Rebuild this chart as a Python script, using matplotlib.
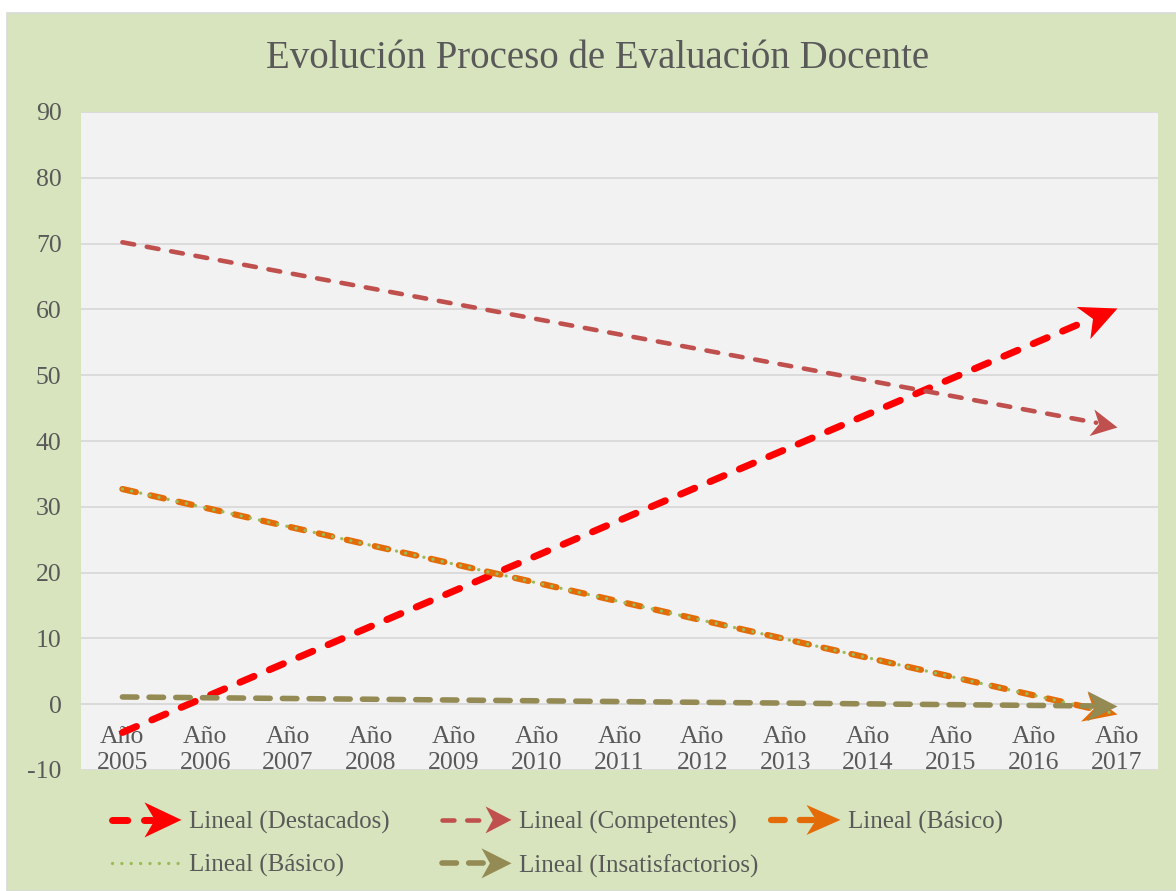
import numpy as np
import matplotlib.pyplot as plt
from matplotlib.lines import Line2D
from matplotlib.markers import MarkerStyle
from matplotlib.path import Path
from matplotlib.patches import Rectangle, Polygon
from matplotlib.transforms import Affine2D

# data: linear trend lines, value at first and last year
years = list(range(2005, 2018))
tick_labels = ['Año\n%d' % y for y in years]
series = ['Lineal (Destacados)', 'Lineal (Competentes)', 'Lineal (Básico)',
          'Lineal (Básico)', 'Lineal (Insatisfactorios)']
trend_start = [-4.3, 70.2, 32.7, 32.7, 1.1]
trend_end = [60.2, 42.2, -1.5, -1.5, -0.3]

# styles
colors = ['#FF0000', '#C0504D', '#E36C09', '#9BBB59', '#948A54']
widths = [5.0, 3.3, 4.5, 2.4, 4.0]
dashes = [(2.2, 2.4), (2.6, 2.8), (2.2, 2.4), (0.01, 2.8), (2.6, 2.2)]
head_len = [37, 26, 34, 0, 30]      # px
head_wid = [35, 27, 30, 0, 30]      # px
TXT = '#595959'
FONT = 'Liberation Serif'

plt.rcParams['font.family'] = FONT
plt.rcParams['axes.unicode_minus'] = False

fig = plt.figure(figsize=(11.76, 8.91), dpi=100, facecolor='white')
fig.patches.append(Rectangle((7 / 1176, 0), 1, 1 - 13 / 891, transform=fig.transFigure,
                             facecolor='#D7E4BD', edgecolor='#D9D9D9', lw=1.2, zorder=-10))

ax = fig.add_axes([81 / 1176, 1 - 770 / 891, (1158 - 81) / 1176, (770 - 112) / 891])
ax.set_facecolor('#F2F2F2')
ax.set_xlim(-0.5, len(years) - 0.5)
ax.set_ylim(-10, 90)
ax.set_yticks(range(-10, 91, 10))
ax.set_xticks(range(len(years)))
ax.set_xticklabels(tick_labels, linespacing=1.25)
ax.tick_params(axis='both', length=0, labelsize=18.5, labelcolor=TXT)
ax.tick_params(axis='y', pad=14)
ax.tick_params(axis='x', pad=16)
ax.grid(axis='y', color='#D9D9D9', lw=1.3)
ax.set_axisbelow(True)
for s in ['top', 'right', 'left']:
    ax.spines[s].set_visible(False)
ax.spines['bottom'].set_position(('data', 0))
ax.spines['bottom'].set_color('#D9D9D9')
ax.spines['bottom'].set_linewidth(1.3)

fig.text(597.5 / 1176, 1 - 58 / 891, 'Evolución Proceso de Evaluación Docente',
         ha='center', va='center', fontsize=28, color=TXT)


def head_path(wr):
    verts = [(0, 0), (-1, 0.5 * wr), (-0.72, 0), (-1, -0.5 * wr), (0, 0)]
    codes = [Path.MOVETO, Path.LINETO, Path.LINETO, Path.LINETO, Path.CLOSEPOLY]
    return Path(verts, codes)


x_end = len(years) - 1
for i in range(len(series)):
    p0, p1 = ax.transData.transform([(0, trend_start[i]), (x_end, trend_end[i])])
    d = p1 - p0
    u = d / np.hypot(*d)
    end = (x_end, trend_end[i])
    if head_len[i]:
        end = ax.transData.inverted().transform(p1 - u * head_len[i] * 0.8)
    ln, = ax.plot([0, end[0]], [trend_start[i], end[1]], color=colors[i], lw=widths[i],
                  dash_capstyle='round', zorder=3 + i)
    ln.set_dashes(dashes[i])
    if head_len[i]:
        ang = np.degrees(np.arctan2(d[1], d[0]))
        m = MarkerStyle(head_path(head_wid[i] / head_len[i]),
                        transform=Affine2D().rotate_deg(ang))
        ax.plot([x_end], [trend_end[i]], marker=m, ms=1.44 * head_len[i], mew=0,
                color=colors[i], zorder=3 + i, clip_on=False)


class ArrowHandler:
    def __init__(self, i):
        self.i = i

    def legend_artist(self, legend, orig_handle, fontsize, handlebox):
        i = self.i
        x0, y0 = handlebox.xdescent, handlebox.ydescent
        w, h = handlebox.width, handlebox.height
        ym = y0 + h / 2
        tr = handlebox.get_transform()
        hl = head_len[i] * 0.72
        hw = head_wid[i] * 0.72
        xe = x0 + w - hl * 0.8 if hl else x0 + w
        ln = Line2D([x0 + 2, xe], [ym, ym], color=colors[i], lw=widths[i],
                    dash_capstyle='round', transform=tr)
        ln.set_dashes(dashes[i])
        handlebox.add_artist(ln)
        if hl:
            tip = x0 + w
            poly = Polygon([(tip, ym), (tip - hl, ym + hw / 2), (tip - hl * 0.72, ym),
                            (tip - hl, ym - hw / 2)], closed=True, color=colors[i],
                           lw=0, transform=tr)
            handlebox.add_artist(poly)
        return ln


proxies = [Line2D([], [], color=c) for c in colors]
columns = [[0, 3], [1, 4], [2]]
col_x = [109 / 1176, 439 / 1176, 768 / 1176]
for cx, idx in zip(col_x, columns):
    fig.legend([proxies[k] for k in idx], [series[k] for k in idx],
               handler_map={proxies[k]: ArrowHandler(k) for k in idx},
               loc='upper left', bbox_to_anchor=(cx, 1 - 811 / 891), frameon=False,
               fontsize=18, labelcolor=TXT, handlelength=2.9, handletextpad=0.3,
               borderpad=0, borderaxespad=0, labelspacing=0.8)

fig.savefig('out.png', dpi=100, facecolor=fig.get_facecolor())
